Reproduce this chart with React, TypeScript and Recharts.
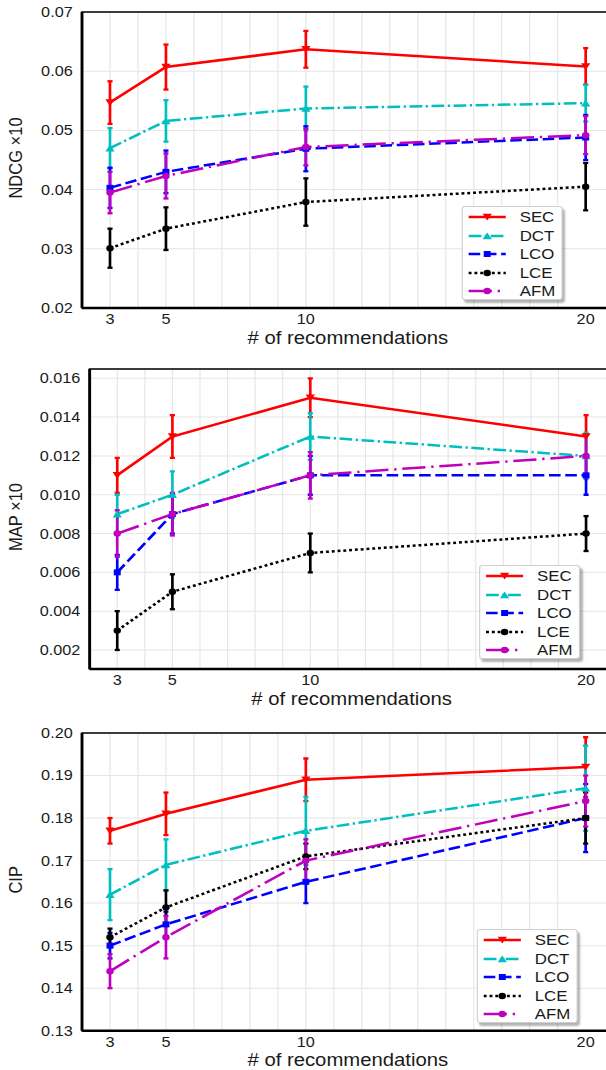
import React from "react";
import {
  LineChart,
  Line,
  XAxis,
  YAxis,
  CartesianGrid,
  ErrorBar,
  Legend,
  ReferenceArea,
} from "recharts";

// # of recommendations
const K = [3, 5, 10, 20];
const X_TICKS = [3, 5, 10, 20];
const X_GRID = [2, 3, 4, 5, 6, 7, 8, 9, 10, 11, 12, 13, 14, 15, 16, 17, 18, 19, 20, 21];
const X_DOMAIN = [2, 21];

const METHODS = ["SEC", "DCT", "LCO", "LCE", "AFM"];

// NDCG x10
const NDCG_SEC = [0.0547, 0.0607, 0.0637, 0.0608];
const NDCG_DCT = [0.047, 0.0516, 0.0537, 0.0546];
const NDCG_LCO = [0.0403, 0.043, 0.0469, 0.0488];
const NDCG_LCE = [0.0301, 0.0334, 0.0379, 0.0405];
const NDCG_AFM = [0.0395, 0.0423, 0.0472, 0.0492];
const NDCG_SEC_ERR = [0.0036, 0.0038, 0.0031, 0.0031];
const NDCG_DCT_ERR = [0.0034, 0.0035, 0.0037, 0.0031];
const NDCG_LCO_ERR = [0.0034, 0.0036, 0.0038, 0.0038];
const NDCG_LCE_ERR = [0.0033, 0.0036, 0.004, 0.004];
const NDCG_AFM_ERR = [0.0035, 0.0038, 0.0031, 0.0032];
const NDCG_TICKS = [0.02, 0.03, 0.04, 0.05, 0.06, 0.07];

// MAP x10
const MAP_SEC = [0.011, 0.013, 0.015, 0.013];
const MAP_DCT = [0.009, 0.01, 0.013, 0.012];
const MAP_LCO = [0.006, 0.009, 0.011, 0.011];
const MAP_LCE = [0.003, 0.005, 0.007, 0.008];
const MAP_AFM = [0.008, 0.009, 0.011, 0.012];
const MAP_SEC_ERR = [0.0009, 0.0011, 0.001, 0.0011];
const MAP_DCT_ERR = [0.001, 0.0012, 0.0012, 0.0012];
const MAP_LCO_ERR = [0.0009, 0.001, 0.001, 0.001];
const MAP_LCE_ERR = [0.001, 0.0009, 0.001, 0.0009];
const MAP_AFM_ERR = [0.0012, 0.0011, 0.0012, 0.0011];
const MAP_TICKS = [0.002, 0.004, 0.006, 0.008, 0.01, 0.012, 0.014, 0.016];

// CIP
const CIP_SEC = [0.177, 0.181, 0.189, 0.192];
const CIP_DCT = [0.162, 0.169, 0.177, 0.187];
const CIP_LCO = [0.15, 0.155, 0.165, 0.18];
const CIP_LCE = [0.152, 0.159, 0.171, 0.18];
const CIP_AFM = [0.144, 0.152, 0.17, 0.184];
const CIP_SEC_ERR = [0.003, 0.005, 0.005, 0.007];
const CIP_DCT_ERR = [0.006, 0.006, 0.008, 0.01];
const CIP_LCO_ERR = [0.003, 0.003, 0.005, 0.008];
const CIP_LCE_ERR = [0.002, 0.004, 0.003, 0.006];
const CIP_AFM_ERR = [0.004, 0.005, 0.005, 0.006];
const CIP_TICKS = [0.13, 0.14, 0.15, 0.16, 0.17, 0.18, 0.19, 0.2];

const COLORS: Record<string, string> = {
  SEC: "#ff0000",
  DCT: "#00bfbf",
  LCO: "#0000ff",
  LCE: "#000000",
  AFM: "#bf00bf",
};
const DASHES: Record<string, string | undefined> = {
  SEC: undefined,
  DCT: "11 3 2 3",
  LCO: "10 4",
  LCE: "2.5 2.5",
  AFM: "20 5 2 5",
};
const MARKERS: Record<string, string> = {
  SEC: "down",
  DCT: "up",
  LCO: "square",
  LCE: "circle",
  AFM: "circle",
};

// the source image is stretched horizontally, so the whole figure is too
const STRETCH = 1.16;
const CHART_W = 530;
const FONT = '"Liberation Sans", Arial, Helvetica, sans-serif';
const TEXT = "#1a1a1a";

function buildRows(vals: number[][], errs: number[][]) {
  return K.map((k, i) => {
    const row: any = { k };
    METHODS.forEach((m, j) => {
      row[m] = vals[j][i];
      row[m + "_err"] = errs[j][i];
    });
    return row;
  });
}

const ndcgRows = buildRows(
  [NDCG_SEC, NDCG_DCT, NDCG_LCO, NDCG_LCE, NDCG_AFM],
  [NDCG_SEC_ERR, NDCG_DCT_ERR, NDCG_LCO_ERR, NDCG_LCE_ERR, NDCG_AFM_ERR]
);
const mapRows = buildRows(
  [MAP_SEC, MAP_DCT, MAP_LCO, MAP_LCE, MAP_AFM],
  [MAP_SEC_ERR, MAP_DCT_ERR, MAP_LCO_ERR, MAP_LCE_ERR, MAP_AFM_ERR]
);
const cipRows = buildRows(
  [CIP_SEC, CIP_DCT, CIP_LCO, CIP_LCE, CIP_AFM],
  [CIP_SEC_ERR, CIP_DCT_ERR, CIP_LCO_ERR, CIP_LCE_ERR, CIP_AFM_ERR]
);

function Marker({ cx, cy, shape, color }: any) {
  if (cx == null || cy == null) return null;
  if (shape === "down")
    return <path d={`M${cx - 4},${cy - 3.3}L${cx + 4},${cy - 3.3}L${cx},${cy + 3.6}Z`} fill={color} />;
  if (shape === "up")
    return <path d={`M${cx - 4},${cy + 3.3}L${cx + 4},${cy + 3.3}L${cx},${cy - 3.6}Z`} fill={color} />;
  if (shape === "square")
    return <rect x={cx - 3} y={cy - 3} width={6} height={6} fill={color} />;
  return <circle cx={cx} cy={cy} r={3.2} fill={color} />;
}

function LegendBox() {
  return (
    <div
      style={{
        width: 87,
        height: 94,
        boxSizing: "border-box",
        background: "#fff",
        border: "1px solid #d0d0d0",
        borderRadius: 3,
        boxShadow: "2px 3px 2px rgba(0,0,0,0.3)",
        paddingTop: 1,
        fontFamily: FONT,
      }}
    >
      {METHODS.map((m) => (
        <div key={m} style={{ display: "flex", alignItems: "center", height: 18.5 }}>
          <svg width={32} height={10} style={{ marginLeft: 5, overflow: "visible" }}>
            <line
              x1={0}
              y1={5}
              x2={32}
              y2={5}
              stroke={COLORS[m]}
              strokeWidth={2.5}
              strokeDasharray={DASHES[m]}
            />
            <Marker cx={16} cy={5} shape={MARKERS[m]} color={COLORS[m]} />
          </svg>
          <span style={{ marginLeft: 12, fontSize: 14.5, color: TEXT }}>{m}</span>
        </div>
      ))}
    </div>
  );
}

function Panel({
  top,
  height,
  marginTop,
  yWidth,
  xHeight,
  xLabelOffset,
  rows,
  yDomain,
  yTicks,
  digits,
  yTitle,
  legendLeft,
  legendTop,
}: any) {
  return (
    <div style={{ position: "absolute", left: 0, top }}>
      <LineChart
        width={CHART_W}
        height={height}
        data={rows}
        margin={{ top: marginTop, right: 1, bottom: 0, left: 0 }}
      >
        <CartesianGrid stroke="#e6e6e6" strokeWidth={1} verticalValues={X_GRID} />
        <ReferenceArea
          x1={X_DOMAIN[0]}
          x2={X_DOMAIN[1]}
          y1={yDomain[0]}
          y2={yDomain[1]}
          fill="none"
          stroke="#000"
          strokeWidth={1.5}
          ifOverflow="visible"
        />
        <XAxis
          type="number"
          dataKey="k"
          domain={X_DOMAIN}
          ticks={X_TICKS}
          allowDataOverflow
          height={xHeight}
          tickLine={false}
          tickSize={6}
          tickMargin={0}
          axisLine={{ stroke: "#000", strokeWidth: 2.5 }}
          tick={{ fontSize: 14, fill: TEXT, fontFamily: FONT }}
          label={{
            value: "# of recommendations",
            position: "insideBottom",
            offset: xLabelOffset,
            fontSize: 17.5,
            fill: TEXT,
            fontFamily: FONT,
          }}
        />
        <YAxis
          type="number"
          domain={yDomain}
          ticks={yTicks}
          allowDataOverflow
          width={yWidth}
          tickLine={false}
          tickSize={5}
          tickMargin={3}
          axisLine={{ stroke: "#000", strokeWidth: 2.5 }}
          tick={{ fontSize: 14, fill: TEXT, fontFamily: FONT }}
          tickFormatter={(v: number) => v.toFixed(digits)}
          label={(p: any) => {
            const vb = p.viewBox || {};
            const cx = 13;
            const cy = vb.y + vb.height / 2 - 2;
            return (
              <text
                x={cx}
                y={cy}
                dy="0.36em"
                textAnchor="middle"
                transform={`rotate(-90 ${cx} ${cy})`}
                fontSize={16.5}
                fill={TEXT}
                fontFamily={FONT}
              >
                {yTitle}
              </text>
            );
          }}
        />
        {METHODS.map((m) => (
          <Line
            key={m}
            type="linear"
            dataKey={m}
            stroke={COLORS[m]}
            strokeWidth={2.5}
            strokeDasharray={DASHES[m]}
            dot={(p: any) => (
              <Marker key={`${m}-${p.index}`} cx={p.cx} cy={p.cy} shape={MARKERS[m]} color={COLORS[m]} />
            )}
            activeDot={false}
            isAnimationActive={false}
          >
            <ErrorBar
              dataKey={m + "_err"}
              direction="y"
              width={2.2}
              stroke={COLORS[m]}
              strokeWidth={2.3}
              isAnimationActive={false}
            />
          </Line>
        ))}
        <Legend
          layout="vertical"
          align="center"
          verticalAlign="middle"
          wrapperStyle={{ left: legendLeft, top: legendTop, width: 87, height: 94 }}
          content={() => <LegendBox />}
        />
      </LineChart>
    </div>
  );
}

export default function App() {
  return (
    <div
      style={{
        position: "absolute",
        left: 0,
        top: 0,
        width: 606,
        height: 1070,
        overflow: "hidden",
        background: "#fff",
        fontFamily: FONT,
      }}
    >
      <div
        style={{
          position: "relative",
          width: CHART_W,
          height: 1070,
          transform: `scaleX(${STRETCH})`,
          transformOrigin: "0 0",
        }}
      >
        <Panel
          top={0}
          height={348}
          marginTop={12}
          yWidth={70.7}
          xHeight={40}
          xLabelOffset={3.5}
          rows={ndcgRows}
          yDomain={[0.02, 0.07]}
          yTicks={NDCG_TICKS}
          digits={2}
          yTitle="NDCG ×10"
          legendLeft={398}
          legendTop={206}
        />
        <Panel
          top={348}
          height={361}
          marginTop={21}
          yWidth={77.3}
          xHeight={40}
          xLabelOffset={3.5}
          rows={mapRows}
          yDomain={[0.00102, 0.01648]}
          yTicks={MAP_TICKS}
          digits={3}
          yTitle="MAP ×10"
          legendLeft={413}
          legendTop={217}
        />
        <Panel
          top={709}
          height={361}
          marginTop={24}
          yWidth={70.7}
          xHeight={39.3}
          xLabelOffset={4.3}
          rows={cipRows}
          yDomain={[0.13, 0.2]}
          yTicks={CIP_TICKS}
          digits={2}
          yTitle="CIP"
          legendLeft={411}
          legendTop={220}
        />
      </div>
    </div>
  );
}
